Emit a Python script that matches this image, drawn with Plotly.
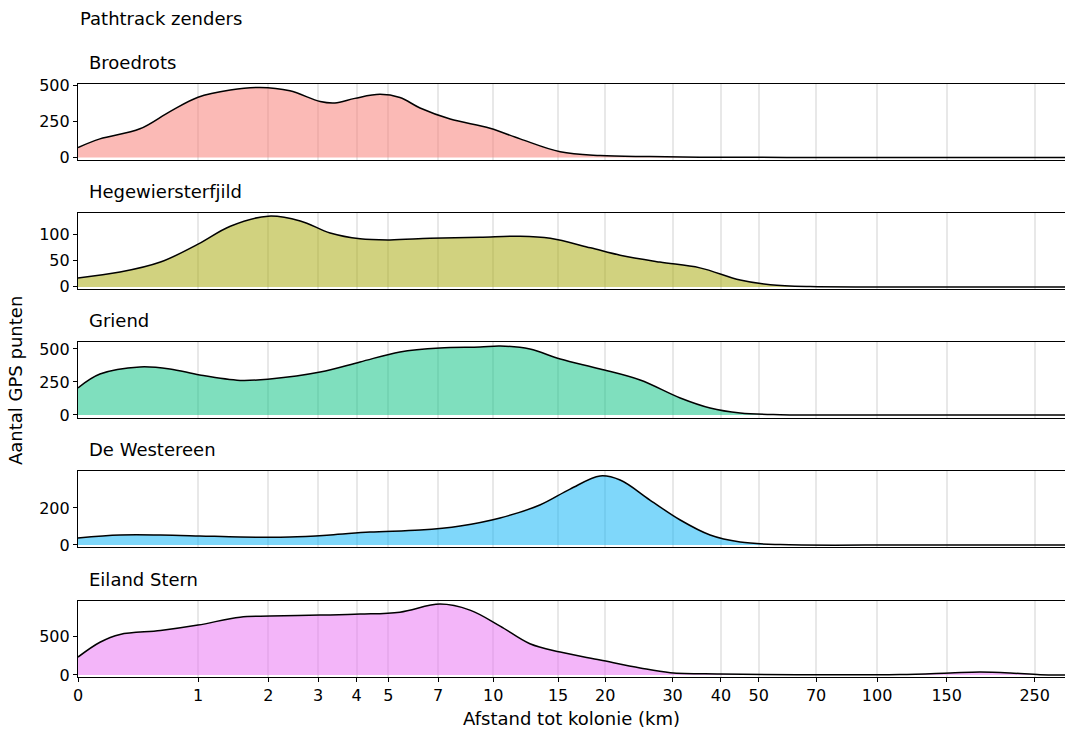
import numpy as np
import plotly.graph_objects as go

# ---- data (distance in km, density count) ----
panels = ["Broedrots", "Hegewiersterfjild", "Griend", "De Westereen", "Eiland Stern"]
colors = ["248,118,109", "163,165,0", "0,191,125", "0,176,246", "231,107,243"]

broed_d = [0, 0.135, 0.43, 0.70, 1.0, 1.41, 1.86, 2.40, 3.05, 3.41, 3.95, 4.72, 5.42, 6.21, 7.58, 9.8, 11.85, 15.2, 19.4, 26.2, 35.3, 60, 120, 298]
broed_v = [70, 130, 200, 320, 420, 470, 488, 465, 390, 380, 412, 440, 418, 345, 268, 204, 130, 40, 14, 7, 3, 1, 0, 0]

hege_d = [0, 0.275, 0.61, 1.0, 1.41, 2.0, 2.61, 3.29, 4.10, 5.06, 6.64, 9.2, 11.85, 14.3, 18.3, 21.9, 27.8, 35.3, 44.8, 53.5, 67.6, 120, 298]
hege_v = [17, 28, 47, 81, 115, 134, 125, 102, 91, 89, 92, 94, 96, 92, 74, 60, 47, 36, 13, 4, 0.5, 0, 0]

griend_d = [0, 0.135, 0.43, 0.70, 1.02, 1.55, 2.03, 3.05, 4.10, 5.42, 7.09, 9.2, 10.45, 12.6, 15.2, 19.4, 24.7, 31.4, 37.5, 44.8, 56.7, 120, 298]
griend_v = [205, 310, 364, 349, 303, 262, 273, 326, 402, 478, 508, 515, 523, 500, 424, 349, 265, 129, 53, 15, 2, 0, 0]

west_d = [0, 0.275, 0.61, 1.02, 1.55, 2.40, 3.29, 4.40, 6.21, 8.09, 10.45, 13.4, 16.15, 19.4, 21.9, 26.2, 31.4, 37.5, 44.8, 56.7, 120, 298]
west_v = [38, 54, 54, 49, 43, 43, 54, 70, 81, 103, 146, 216, 302, 373, 351, 243, 135, 54, 16, 2, 0, 0]

stern_d = [0, 0.135, 0.275, 0.61, 1.0, 1.55, 2.03, 3.05, 4.10, 5.42, 7.09, 8.62, 10.45, 12.6, 15.2, 19.4, 24.7, 29.6, 39.8, 63.7, 114, 153, 182, 217, 258, 298]
stern_v = [230, 420, 520, 570, 640, 742, 755, 768, 781, 806, 909, 832, 627, 400, 294, 192, 90, 30, 13, 3, 6, 26, 38, 26, 3, 0]

series_d = [broed_d, hege_d, griend_d, west_d, stern_d]
series_v = [broed_v, hege_v, griend_v, west_v, stern_v]

y_ranges = [[-17, 512], [-4, 140], [-23, 553], [-11, 400], [-26, 949]]
y_ticks = [[0, 250, 500], [0, 50, 100], [0, 250, 500], [0, 200], [0, 500]]

x_ticks = [0, 1, 2, 3, 4, 5, 7, 10, 15, 20, 30, 40, 50, 70, 100, 150, 250]
x_max_km = 298

FONT = "DejaVu Sans"

def tr(v):
    return np.log10(np.asarray(v, dtype=float) + 1)

W, H = 1067, 737
L, R, T, B = 78, 2, 84, 60
plot_h = H - T - B
tops = [84, 213, 342, 471, 601]
ph = 76

fig = go.Figure()
layout = dict(
    width=W, height=H,
    margin=dict(l=L, r=R, t=T, b=B),
    plot_bgcolor="white", paper_bgcolor="white",
    showlegend=False,
    font=dict(family=FONT, color="black", size=15),
)

annotations = []
for i, name in enumerate(panels):
    sfx = "" if i == 0 else str(i + 1)
    top = tops[i]
    bot = top + ph
    d0 = 1 - (bot - T) / plot_h
    d1 = 1 - (top - T) / plot_h
    fig.add_trace(go.Scatter(
        x=tr(series_d[i]), y=series_v[i],
        mode="lines", line=dict(color="black", width=1.5, shape="spline", smoothing=1.0),
        fill="tozeroy", fillcolor=f"rgba({colors[i]},0.5)",
        xaxis="x" + sfx, yaxis="y" + sfx, hoverinfo="skip",
    ))
    last = i == len(panels) - 1
    layout["xaxis" + sfx] = dict(
        domain=[0, 1], anchor="y" + sfx,
        range=[0, float(tr(x_max_km))],
        tickvals=list(tr(x_ticks)), ticktext=[str(t) for t in x_ticks],
        showticklabels=last, ticks="outside" if last else "",
        ticklen=4, tickwidth=1.2, tickcolor="black",
        showgrid=True, gridcolor="#e8e8e8", gridwidth=1.6,
        showline=True, linecolor="black", linewidth=1.2, mirror=True,
        zeroline=False, tickfont=dict(size=16, family=FONT),
        title=dict(text="Afstand tot kolonie (km)", font=dict(size=18, family=FONT), standoff=8) if last else None,
        matches=None if i == 0 else "x",
    )
    layout["yaxis" + sfx] = dict(
        domain=[d0, d1], anchor="x" + sfx,
        range=y_ranges[i], tickvals=y_ticks[i],
        ticks="outside", ticklen=4, tickwidth=1.2, tickcolor="black",
        showgrid=False, zeroline=False,
        showline=True, linecolor="black", linewidth=1.2,
        tickfont=dict(size=16, family=FONT),
    )
    annotations.append(dict(
        text=name, xref="paper", yref="paper",
        x=(87 - L) / (W - L - R), y=d1, yshift=9,
        xanchor="left", yanchor="bottom", showarrow=False,
        font=dict(size=18, family=FONT),
    ))

annotations.append(dict(
    text="Pathtrack zenders", xref="paper", yref="paper",
    x=0, y=1 + (T - 6) / plot_h, xanchor="left", yanchor="top", showarrow=False,
    font=dict(size=18, family=FONT),
))
annotations.append(dict(
    text="Aantal GPS punten", xref="paper", yref="paper",
    x=-(L - 3) / (W - L - R), y=0.5, xanchor="left", yanchor="middle",
    textangle=-90, showarrow=False, font=dict(size=18, family=FONT),
))
layout["annotations"] = annotations
fig.update_layout(**layout)
fig.write_html("out.html")
